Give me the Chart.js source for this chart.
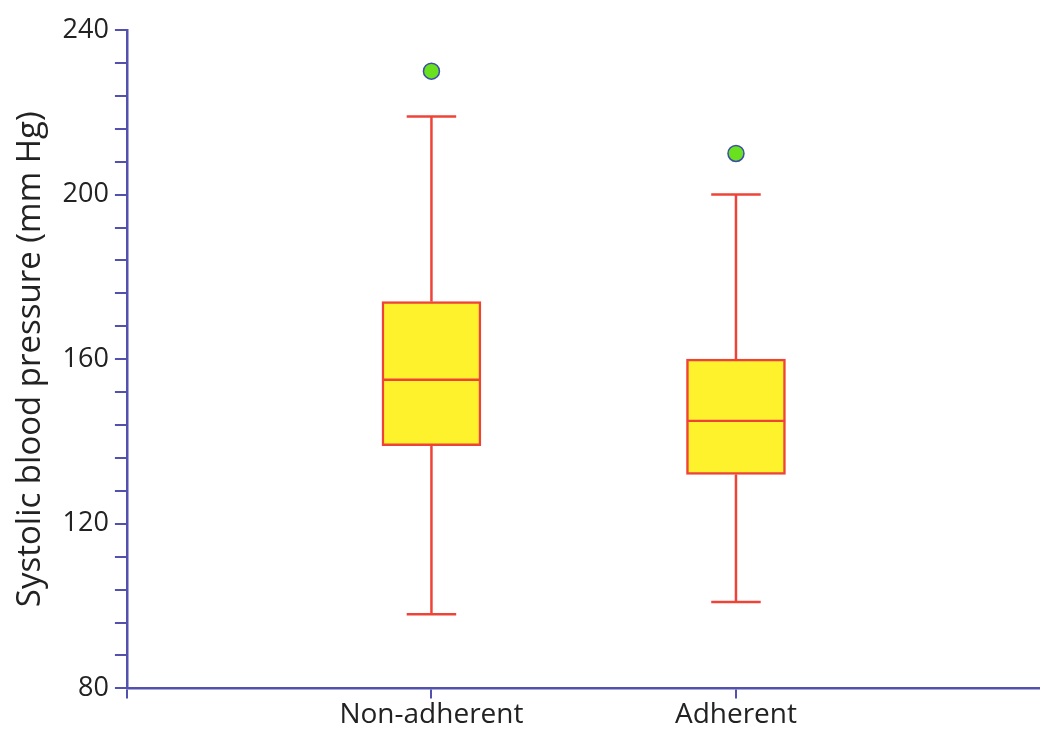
<!DOCTYPE html>
<html>
<head>
<meta charset="utf-8">
<script src="https://cdn.jsdelivr.net/npm/chart.js@4/dist/chart.umd.min.js"></script>
<style>
  html, body { margin: 0; padding: 0; background: #fff; overflow: hidden; }
  #wrap { width: 1040px; height: 736px; overflow: hidden; }
  canvas { display: block; }
</style>
</head>
<body>
<div id="wrap"><canvas id="bp" width="1050" height="736"></canvas></div>
<script>
// box plot summary values (mm Hg)
const categories = ['Non-adherent', 'Adherent'];
const whiskerLow = [98, 101];
const q1 = [139, 132];
const median = [155, 145];
const q3 = [174, 160];
const whiskerHigh = [219, 200];
const outliers = [230, 210];

const yTicks = [80, 120, 160, 200, 240];

const AXIS = '#5252ae';
const RED = '#ee4438';
const YELLOW = '#fdf22c';
const TEXT = '#222';
const FONT = "'Open Sans', sans-serif";
const BOX_W = 99;

// pad a blank slot on each side so the two groups sit at 1/3 and 2/3
const labels = ['', ...categories, ''];
const pad = arr => [null, ...arr, null];

// whiskers + caps, drawn from the chart's own scales
const whiskerPlugin = {
  id: 'whiskers',
  beforeDatasetsDraw(chart) {
    const { ctx, scales: { x, y } } = chart;
    ctx.save();
    ctx.strokeStyle = RED;
    ctx.lineWidth = 2.5;
    categories.forEach((c, i) => {
      const px = x.getPixelForValue(i + 1);
      const half = BOX_W / 4;
      const segs = [[whiskerLow[i], q1[i]], [q3[i], whiskerHigh[i]]];
      segs.forEach(([a, b]) => {
        ctx.beginPath();
        ctx.moveTo(px, y.getPixelForValue(a));
        ctx.lineTo(px, y.getPixelForValue(b));
        ctx.stroke();
      });
      [whiskerLow[i], whiskerHigh[i]].forEach(v => {
        const py = y.getPixelForValue(v);
        ctx.beginPath();
        ctx.moveTo(px - half, py);
        ctx.lineTo(px + half, py);
        ctx.stroke();
      });
    });
    ctx.restore();
  }
};

const boxStyle = {
  type: 'bar',
  backgroundColor: YELLOW,
  borderColor: RED,
  borderSkipped: false,
  barThickness: BOX_W,
  grouped: false
};

new Chart(document.getElementById('bp'), {
  data: {
    labels: labels,
    datasets: [
      {
        ...boxStyle,
        label: 'Q1-median',
        data: pad(q1.map((v, i) => [v, median[i]])),
        borderWidth: { top: 1.5, bottom: 2.5, left: 2.5, right: 2.5 },
        order: 2
      },
      {
        ...boxStyle,
        label: 'median-Q3',
        data: pad(median.map((v, i) => [v, q3[i]])),
        borderWidth: { top: 2.5, bottom: 1.5, left: 2.5, right: 2.5 },
        order: 2
      },
      {
        type: 'line',
        label: 'Outliers',
        data: pad(outliers),
        showLine: false,
        pointRadius: 8,
        pointBackgroundColor: '#6ae11f',
        pointBorderColor: '#3c4ea6',
        pointBorderWidth: 1.5,
        order: 1
      }
    ]
  },
  options: {
    responsive: false,
    animation: false,
    layout: { padding: { top: 30, right: 0, left: 11, bottom: 4 } },
    plugins: {
      legend: { display: false },
      tooltip: { enabled: false }
    },
    scales: {
      x: {
        type: 'category',
        offset: false,
        grid: {
          offset: false,
          drawOnChartArea: false,
          color: ctx => ctx.index === 3 ? 'rgba(0,0,0,0)' : AXIS,
          tickLength: 10,
          lineWidth: 2
        },
        border: { color: AXIS, width: 2.5 },
        ticks: {
          color: TEXT,
          font: { family: FONT, size: 28 },
          maxRotation: 0,
          autoSkip: false,
          padding: 0
        }
      },
      y: {
        min: 80,
        max: 240,
        grid: {
          drawOnChartArea: false,
          color: AXIS,
          tickLength: 12,
          lineWidth: 2
        },
        border: { color: AXIS, width: 2.5 },
        ticks: {
          stepSize: 8,
          autoSkip: false,
          color: TEXT,
          padding: 6,
          font: { family: FONT, size: 27 },
          callback: v => yTicks.includes(v) ? v : ''
        },
        title: {
          display: true,
          text: 'Systolic blood pressure (mm Hg)',
          color: TEXT,
          font: { family: FONT, size: 33 },
          padding: { top: 0, bottom: 6 }
        }
      }
    }
  },
  plugins: [whiskerPlugin]
});
</script>
</body>
</html>
